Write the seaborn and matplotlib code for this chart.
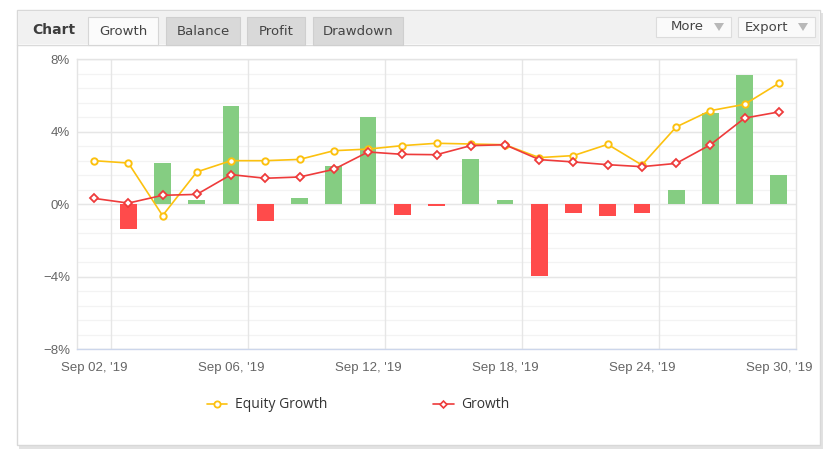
import numpy as np
import pandas as pd
import seaborn as sns
import matplotlib
matplotlib.use('Agg')
import matplotlib.pyplot as plt
from matplotlib.patches import Rectangle, Polygon
from matplotlib.lines import Line2D

# ---- data ----
dates = ['Sep 02', 'Sep 03', 'Sep 04', 'Sep 05', 'Sep 06', 'Sep 09', 'Sep 10',
         'Sep 11', 'Sep 12', 'Sep 13', 'Sep 16', 'Sep 17', 'Sep 18', 'Sep 19',
         'Sep 20', 'Sep 23', 'Sep 24', 'Sep 25', 'Sep 26', 'Sep 27', 'Sep 30']
daily = [0.0, -1.36, 2.28, 0.22, 5.39, -0.96, 0.35, 2.08, 4.82, -0.59, -0.13,
         2.48, 0.22, -3.99, -0.52, -0.66, -0.52, 0.75, 5.04, 7.12, 1.60]
equity_growth = [2.39, 2.26, -0.64, 1.77, 2.39, 2.39, 2.46, 2.94, 3.03, 3.22, 3.35,
                 3.31, 3.27, 2.56, 2.67, 3.29, 2.15, 4.25, 5.15, 5.50, 6.66]
growth = [0.31, 0.05, 0.48, 0.53, 1.62, 1.42, 1.49, 1.91, 2.87, 2.74, 2.72,
          3.22, 3.27, 2.45, 2.32, 2.17, 2.06, 2.24, 3.27, 4.74, 5.08]
tick_idx = [0, 4, 8, 12, 16, 20]
tick_labels = ["Sep 02, '19", "Sep 06, '19", "Sep 12, '19",
               "Sep 18, '19", "Sep 24, '19", "Sep 30, '19"]
y_ticks = [-8, -4, 0, 4, 8]
tabs = ['Growth', 'Balance', 'Profit', 'Drawdown']

df = pd.DataFrame({'date': dates, 'daily': daily})
df['sign'] = np.where(df['daily'] >= 0, 'up', 'down')

W, H = 834, 453
sns.set_style('white')
plt.rcParams['font.family'] = ['Liberation Sans', 'DejaVu Sans']
fig = plt.figure(figsize=(W / 100, H / 100), dpi=100)
fig.patch.set_facecolor('white')


def px(x, y):
    return x / W, 1 - y / H


def frect(x0, y0, x1, y1, **kw):
    fig.add_artist(Rectangle(px(x0, y1), (x1 - x0) / W, (y1 - y0) / H,
                             transform=fig.transFigure, **kw))


# ---- panel frame ----
frect(19, 13, 823, 449, facecolor='#e2e2e2', edgecolor='none', zorder=0)
frect(17, 10, 820, 445, facecolor='white', edgecolor='#d8d8d8', lw=1, zorder=0.5)
frect(18, 11, 819, 44, facecolor='#f1f1f1', edgecolor='none', zorder=0.6)
fig.add_artist(Line2D([17 / W, 820 / W], [1 - 44.5 / H] * 2, color='#dadada',
                      lw=1, transform=fig.transFigure, zorder=0.7))
fig.text(*px(32, 30), 'Chart', fontsize=10, fontweight='bold', color='#3d3d3d',
         family='DejaVu Sans', va='center', ha='left')

tab_x = [(88, 158), (166, 240), (247, 305), (313, 403)]
for name, (x0, x1) in zip(tabs, tab_x):
    active = name == 'Growth'
    frect(x0, 17, x1, 45, facecolor='#fbfbfb' if active else '#d9d9d9',
          edgecolor='#d6d6d6' if active else '#cfcfcf', lw=0.8, zorder=0.8)
    fig.text(*px((x0 + x1) / 2, 31.5), name, fontsize=9.5, color='#444444',
             family='DejaVu Sans', va='center', ha='center', zorder=1)

for name, (x0, x1) in [('More', (656, 731)), ('Export', (738, 815))]:
    frect(x0, 17, x1, 37, facecolor='#fafafa', edgecolor='#dcdcdc', lw=0.8, zorder=0.8)
    fig.text(*px(x0 + 31 if name == 'More' else x0 + 28, 27), name, fontsize=9.5,
             color='#444444', family='DejaVu Sans', va='center', ha='center', zorder=1)
    cx = x1 - 12
    fig.add_artist(Polygon([px(cx - 5, 23), px(cx + 5, 23), px(cx, 31)], closed=True,
                           facecolor='#b8b8b8', edgecolor='none',
                           transform=fig.transFigure, zorder=1))

# ---- plot ----
ax = fig.add_axes([77 / W, 1 - 349 / H, 719 / W, 290 / H])
ax.set_zorder(2)
ax.set_facecolor('white')

sns.barplot(data=df, x='date', y='daily', hue='sign', dodge=False, width=0.49,
            palette={'up': '#85cd82', 'down': '#ff4b4b'}, saturation=1,
            linewidth=0, legend=False, ax=ax, zorder=3)

xs = np.arange(len(dates))
sns.lineplot(x=xs, y=equity_growth, color='#fcc10f', lw=1.2, marker='o',
             markersize=4.6, markerfacecolor='white', markeredgecolor='#fcc10f',
             markeredgewidth=1.4, ax=ax, zorder=5)
sns.lineplot(x=xs, y=growth, color='#ee3b3b', lw=1.2, marker='D',
             markersize=3.6, markerfacecolor='white', markeredgecolor='#ee3b3b',
             markeredgewidth=1.3, ax=ax, zorder=6)

ax.set_xlim(-0.5, len(dates) - 0.5)
ax.set_ylim(-8, 8)
ax.set_yticks(y_ticks)
ax.set_yticklabels([f'{v}%'.replace('-', '\u2212') for v in y_ticks])
ax.set_xticks(tick_idx)
ax.set_xticklabels(tick_labels)
ax.tick_params(axis='both', length=0, labelsize=9.5, colors='#666666')
ax.tick_params(axis='x', pad=9)
ax.tick_params(axis='y', pad=5)
ax.set_xlabel('')
ax.set_ylabel('')

ax.grid(False)
for v in np.arange(-8, 8.01, 0.8):
    ax.axhline(v, color='#f3f3f3', lw=0.9, zorder=0)
for v in y_ticks:
    ax.axhline(v, color='#e6e6e6', lw=1, zorder=1)
for i in [0, 4, 8, 12, 16]:
    ax.axvline(i + 0.5, color='#e6e6e6', lw=1, zorder=1)

for s in ['left', 'top', 'right']:
    ax.spines[s].set_color('#e4e4e4')
    ax.spines[s].set_linewidth(1)
ax.spines['bottom'].set_color('#ccd6eb')
ax.spines['bottom'].set_linewidth(1)

# ---- legend ----
handles = [
    Line2D([], [], color='#fcc10f', lw=1.2, marker='o', markersize=4.5,
           markerfacecolor='white', markeredgewidth=1.3),
    Line2D([], [], color='#ee3b3b', lw=1.2, marker='D', markersize=3.5,
           markerfacecolor='white', markeredgewidth=1.2),
]
leg = fig.legend(handles, ['Equity Growth', 'Growth'], ncol=2, frameon=False,
                 loc='center left', bbox_to_anchor=px(194, 405),
                 handlelength=1.5, handletextpad=0.55, columnspacing=7.6,
                 prop={'family': 'Open Sans', 'size': 10})
for t in leg.get_texts():
    t.set_color('#333333')

fig.savefig('out.png', dpi=100, facecolor='white')
